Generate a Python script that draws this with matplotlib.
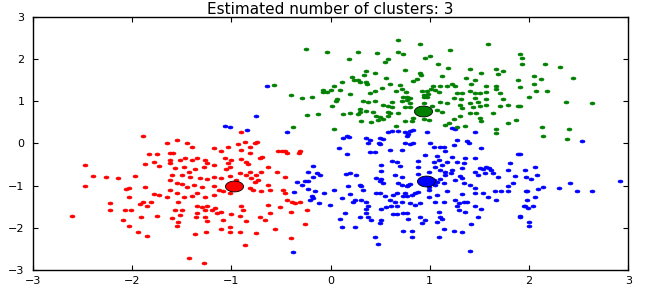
import numpy as np
import matplotlib
matplotlib.use("Agg")
import matplotlib.pyplot as plt
from matplotlib.path import Path

# points, one list per cluster (x, y)
blue_pts = [
    (-0.64, 1.36), (-0.44, 0.27), (0.17, 0.18), (0.12, 0.14), (0.19, 0.16), (0.36, 0.14),
    (0.40, 0.08), (0.38, 0.00), (0.50, 0.12), (0.53, 0.10), (0.58, 0.26), (0.49, 0.02),
    (0.50, -0.02), (0.08, -0.12), (0.17, -0.26), (0.40, -0.21), (0.45, -0.21),
    (-0.75, 0.65), (-1.06, 0.42), (-1.01, 0.38), (-0.84, 0.32), (-0.34, -0.92), (-0.37, -1.16),
    (0.62, 0.30), (0.68, 0.30), (0.75, 0.28), (0.80, 0.30), (0.83, 0.32), (0.97, 0.28),
    (0.77, 0.18), (0.78, 0.22), (0.75, 0.02), (0.80, -0.01), (0.83, 0.00), (0.72, -0.16),
    (1.00, 0.00), (1.04, -0.08), (1.10, -0.09), (1.14, -0.08), (1.15, -0.17), (1.24, -0.04),
    (1.27, 0.07), (1.22, 0.36), (1.25, 0.34), (1.37, 0.05), (1.39, 0.00), (1.46, 0.28),
    (1.52, -0.12), (0.95, -0.28), (1.07, -0.31), (1.22, -0.33), (1.35, -0.35), (1.46, -0.35),
    (0.60, -0.16), (1.89, -0.24), (-0.38, -2.57),
    (-0.18, -0.54), (-0.23, -0.67), (-0.14, -0.71), (-0.11, -0.76), (-0.18, -0.79),
    (-0.26, -0.90), (-0.23, -0.90), (-0.29, -0.99), (-0.23, -1.08), (-0.16, -1.14),
    (-0.07, -1.17), (-0.19, -1.25), (-0.21, -1.33), (-0.18, -1.30), (-0.12, -1.42),
    (-0.01, -1.46), (0.03, -1.10), (0.11, -1.30), (0.16, -0.72), (0.20, -0.71), (0.26, -0.76),
    (0.18, -1.02), (0.30, -0.99), (0.31, -1.02), (0.33, -1.10), (0.20, -1.20), (0.23, -1.38),
    (0.25, -1.34), (0.31, -1.34), (0.36, -1.38), (0.38, -1.48), (0.36, -1.56), (0.14, -1.65),
    (0.30, -1.75), (0.36, -1.65), (0.41, -1.82), (0.38, -1.74), (0.09, -1.80), (0.11, -1.97),
    (0.25, -1.99), (0.50, -1.89), (0.51, -1.82), (0.45, -2.21), (0.48, -2.38), (0.46, -1.17),
    (0.50, -1.17), (0.51, -0.50), (0.51, -0.65), (0.46, -0.83), (0.51, -0.85), (0.53, -0.93),
    (0.50, -0.90), (0.62, -0.42), (0.67, -0.43), (0.70, -0.54), (0.65, -0.75), (0.72, -0.79),
    (0.68, -0.94), (0.72, -0.99), (0.77, -1.02), (0.78, -0.99), (0.80, -0.96), (0.55, -1.25),
    (0.63, -1.22), (0.67, -1.18), (0.73, -1.25), (0.75, -1.18), (0.77, -1.25), (0.82, -1.22),
    (0.85, -1.18), (0.88, -1.16), (0.60, -1.33), (0.65, -1.38), (0.72, -1.40), (0.80, -1.42),
    (0.85, -1.46), (0.90, -1.42), (0.51, -1.56), (0.56, -1.51), (0.61, -1.49), (0.67, -1.48),
    (0.63, -1.67), (0.67, -1.67), (0.73, -1.66), (0.77, -1.65), (0.78, -1.80), (0.90, -1.75),
    (0.95, -1.82), (0.92, -1.89), (0.73, -2.07), (0.82, -2.07), (0.82, -2.22), (0.88, -0.42),
    (0.88, -0.55), (0.99, -0.67), (0.88, -0.72), (0.99, -1.04), (0.99, -1.10), (0.99, -1.26),
    (1.04, -0.43), (1.09, -0.39), (1.17, -0.43), (1.12, -0.51), (1.05, -0.55), (1.10, -0.63),
    (1.15, -0.67), (1.22, -0.63), (1.21, -0.71), (1.27, -0.45), (1.32, -0.59), (1.34, -0.47),
    (1.00, -0.83), (1.04, -0.87), (1.02, -0.95), (1.07, -0.91), (1.05, -0.99), (1.10, -0.85),
    (1.15, -0.75), (1.14, -0.95), (1.25, -0.87), (1.30, -0.77), (1.32, -0.83), (1.34, -0.93),
    (1.46, -0.67), (1.51, -0.59), (1.54, -0.61), (1.57, -0.56), (1.60, -0.59), (1.62, -0.63),
    (1.64, -0.71), (1.56, -0.71), (1.49, -0.75), (1.69, -0.80), (1.79, -0.63), (1.81, -0.47),
    (1.86, -0.77), (1.96, -0.63), (1.97, -0.79), (1.41, -0.99), (1.46, -1.06), (1.46, -1.18),
    (1.54, -1.18), (1.59, -1.26), (1.66, -1.12), (1.72, -1.14), (1.79, -1.02), (1.79, -1.12),
    (1.84, -0.95), (1.97, -1.14), (1.07, -1.22), (1.17, -1.14), (1.05, -1.40), (1.14, -1.38),
    (1.25, -1.33), (1.29, -1.42), (1.32, -1.20), (1.34, -1.40), (1.37, -1.40), (1.27, -1.49),
    (1.29, -1.58), (1.35, -1.62), (1.46, -1.48), (1.52, -1.55), (1.67, -1.34), (1.96, -1.48),
    (1.09, -1.62), (1.10, -1.74), (1.12, -1.80), (1.07, -1.86), (1.49, -1.75), (1.42, -1.91),
    (1.91, -1.72), (2.00, -1.86), (1.14, -2.03), (1.24, -2.07), (1.32, -2.10), (1.09, -2.21),
    (1.41, -2.55), (2.53, 0.05), (1.91, -0.25), (2.06, -0.57), (2.08, -0.75), (2.02, -0.85),
    (2.41, -0.95), (2.14, -1.04), (2.09, -1.08), (2.30, -1.06), (1.98, -1.13), (2.06, -1.26),
    (2.48, -1.14), (2.63, -1.14), (2.92, -0.90), (1.98, -1.35), (1.95, -1.49), (1.99, -1.52),
    (2.04, -1.49), (1.91, -1.74), (2.00, -1.95),
]

green_pts = [
    (-0.57, 1.38), (-0.25, 2.23), (-0.04, 2.17), (0.28, 2.16), (0.47, 2.14), (0.19, 1.99),
    (0.58, 1.99), (0.55, 1.92), (0.36, 1.72), (0.45, 1.67), (0.34, 1.63), (0.22, 1.57),
    (0.28, 1.50), (0.24, 1.50), (0.30, 1.46), (0.36, 1.46), (0.37, 1.41), (0.56, 1.56),
    (0.11, 1.46), (0.03, 1.35), (-0.08, 1.26), (-0.04, 1.23), (0.00, 1.27), (-0.08, 1.21),
    (0.09, 1.26), (0.45, 1.24), (0.52, 1.31), (-0.40, 1.14), (-0.29, 1.07), (-0.19, 1.11),
    (0.20, 1.16), (0.40, 1.19), (0.06, 1.05),
    (0.68, 2.44), (0.90, 2.35), (1.59, 2.35), (1.20, 2.21), (0.68, 2.16), (0.73, 2.11),
    (1.00, 2.07), (0.95, 2.02), (1.08, 1.88), (1.18, 1.79), (0.75, 1.73), (0.90, 1.68),
    (0.91, 1.62), (1.41, 1.76), (1.52, 1.68), (1.67, 1.76), (1.74, 1.72), (1.69, 1.64),
    (1.12, 1.59), (1.36, 1.55), (1.46, 1.50), (0.83, 1.47), (0.87, 1.52), (1.42, 1.40),
    (1.89, 1.51), (0.60, 1.40), (0.70, 1.38), (0.66, 1.25), (1.03, 1.37), (1.10, 1.37),
    (1.17, 1.37), (1.22, 1.42), (1.25, 1.36), (1.57, 1.35), (1.67, 1.37), (1.67, 1.28),
    (0.72, 1.28), (0.76, 1.21), (0.92, 1.25), (0.97, 1.25), (1.01, 1.29), (1.05, 1.26),
    (1.09, 1.21), (0.98, 1.17), (0.94, 1.15), (1.27, 1.19), (1.32, 1.20), (1.40, 1.25),
    (1.46, 1.19), (1.51, 1.19), (1.57, 1.21), (1.71, 1.19), (0.77, 1.09), (0.80, 1.07),
    (0.73, 1.10), (0.94, 1.10), (0.97, 1.11), (1.24, 1.07), (1.31, 1.05), (1.46, 1.07),
    (1.57, 1.06), (1.74, 1.06),
    (1.91, 2.13), (1.93, 2.03), (1.93, 1.88), (2.16, 1.88), (2.31, 1.80), (2.05, 1.59),
    (2.12, 1.53), (2.44, 1.55), (2.05, 1.40), (1.91, 1.33), (2.07, 1.24), (2.18, 1.24),
    (2.00, 1.10), (1.91, 0.88), (2.37, 0.97), (2.63, 0.95), (2.13, 0.40), (2.40, 0.35),
    (0.01, 0.88), (0.05, 1.01), (0.30, 0.81), (0.33, 1.01), (0.38, 0.99), (0.45, 1.00),
    (0.53, 0.91), (0.58, 0.89), (-0.24, 0.67), (-0.13, 0.70), (0.12, 0.69), (0.20, 0.71),
    (0.28, 0.70), (0.30, 0.74), (0.36, 0.77), (0.43, 0.75), (0.46, 0.66), (0.50, 0.63),
    (0.31, 0.54), (0.41, 0.51), (0.48, 0.55), (0.53, 0.59), (0.58, 0.75), (0.58, 0.65),
    (-0.38, 0.38), (0.03, 0.34),
    (0.62, 0.99), (0.72, 1.00), (0.77, 1.03), (0.80, 0.95), (0.75, 0.87), (0.62, 0.87),
    (0.60, 0.73), (0.68, 0.73), (0.80, 0.87), (0.94, 0.95), (1.02, 0.89), (1.10, 0.99),
    (1.17, 0.95), (1.07, 0.79), (1.12, 0.75), (1.30, 0.91), (1.32, 0.84), (1.41, 0.95),
    (1.44, 0.87), (1.49, 0.99), (1.51, 0.89), (1.57, 0.91), (1.71, 0.89), (1.79, 0.91),
    (1.89, 0.89), (1.41, 0.72), (1.47, 0.72), (1.30, 0.64), (1.24, 0.57), (1.19, 0.48),
    (1.15, 0.44), (1.27, 0.40), (1.35, 0.42), (1.51, 0.60), (1.52, 0.52), (1.64, 0.72),
    (1.67, 0.34), (1.67, 0.24), (1.79, 0.48), (1.87, 0.55), (0.66, 0.41), (0.75, 0.54),
    (0.82, 0.52), (0.94, 0.57), (0.99, 0.55), (0.83, 0.60),
    (2.14, 0.18), (2.38, 0.10),
]

red_pts = [
    (-0.53, -0.19), (-0.49, -0.17), (-0.46, -0.19), (-0.44, -0.23), (-0.31, -0.18),
    (-0.32, -0.23), (-0.69, -0.33),
    (-1.89, 0.18), (-1.65, 0.00), (-1.83, -0.25), (-1.75, -0.24), (-1.87, -0.49),
    (-1.78, -0.45), (-1.73, -0.54), (-2.48, -0.50), (-2.40, -0.78), (-2.26, -0.79),
    (-2.14, -0.83), (-1.97, -0.77), (-2.48, -1.00), (-2.06, -1.08), (-2.03, -1.05),
    (-1.87, -1.04), (-2.03, -1.26), (-1.78, -1.20), (-1.73, -1.23), (-1.65, -1.28),
    (-1.62, -0.39), (-1.62, -0.87),
    (-0.90, 0.27), (-1.55, 0.08), (-1.45, 0.00), (-1.40, -0.08), (-1.18, -0.10),
    (-1.03, -0.08), (-0.93, -0.02), (-0.86, 0.04), (-0.76, 0.02), (-0.74, 0.04),
    (-0.81, -0.08), (-0.90, -0.16), (-1.10, -0.19), (-0.81, -0.23), (-1.62, -0.23),
    (-1.59, -0.23), (-1.52, -0.39), (-1.47, -0.35), (-1.40, -0.39), (-1.35, -0.35),
    (-1.27, -0.39), (-1.25, -0.47), (-1.06, -0.35), (-1.00, -0.39), (-0.90, -0.37),
    (-0.85, -0.43), (-0.83, -0.49), (-0.71, -0.35), (-1.62, -0.47), (-1.57, -0.59),
    (-1.48, -0.57), (-1.43, -0.67), (-1.37, -0.61), (-1.28, -0.55), (-1.18, -0.51),
    (-1.03, -0.47), (-1.01, -0.55), (-1.05, -0.61), (-0.91, -0.69), (-0.81, -0.67),
    (-0.85, -0.75), (-0.75, -0.75), (-0.70, -0.67), (-0.63, -0.55), (-0.54, -0.67),
    (-0.46, -0.79), (-1.60, -0.75), (-1.50, -0.75), (-1.42, -0.79), (-1.32, -0.81),
    (-1.25, -0.85), (-1.18, -0.79), (-1.10, -0.83), (-1.01, -0.77), (-0.95, -0.87),
    (-0.80, -0.83), (-0.76, -0.91), (-0.73, -0.87), (-0.63, -0.99), (-1.55, -0.94),
    (-1.50, -0.96), (-1.45, -1.04), (-1.38, -0.99), (-1.30, -1.03), (-1.18, -1.01),
    (-1.13, -1.10), (-1.08, -1.14), (-1.01, -1.17), (-0.81, -1.06), (-0.78, -1.10),
    (-0.70, -1.14), (-0.61, -1.10), (-0.48, -1.10), (-0.46, -1.18), (-1.62, -1.10),
    (-1.55, -1.18), (-1.48, -1.28), (-1.40, -1.25), (-1.35, -1.18), (-1.27, -1.28),
    (-1.18, -1.22),
    (-2.22, -1.42), (-2.22, -1.58), (-2.61, -1.71), (-2.07, -1.57), (-2.01, -1.57),
    (-2.09, -1.82), (-2.03, -1.96), (-1.94, -2.09), (-1.85, -2.19), (-1.91, -1.75),
    (-1.75, -1.71), (-1.92, -1.44), (-1.89, -1.38), (-1.85, -1.48), (-1.81, -1.38),
    (-1.54, -1.38), (-1.57, -1.57), (-1.50, -1.57), (-1.52, -1.70), (-1.54, -1.86),
    (-1.55, -1.95), (-1.60, -1.77), (-1.35, -1.49), (-1.30, -1.51), (-1.25, -1.49),
    (-1.27, -1.58), (-1.20, -1.57), (-1.17, -1.54), (-1.15, -1.66), (-1.35, -1.64),
    (-1.36, -1.74), (-1.27, -1.75), (-1.25, -1.83), (-1.10, -1.62), (-1.08, -1.82),
    (-1.00, -1.67), (-1.01, -1.97), (-1.10, -2.03), (-0.90, -1.49), (-0.88, -1.58),
    (-0.91, -1.72), (-0.85, -1.83), (-1.37, -2.14), (-1.26, -2.10), (-1.01, -2.10),
    (-0.91, -2.10), (-0.86, -2.40), (-0.75, -2.12), (-1.43, -2.72), (-1.28, -2.84),
    (-0.63, -1.46), (-0.51, -1.51), (-0.61, -1.66), (-0.71, -1.74), (-0.66, -1.82),
    (-0.56, -2.03), (-0.40, -2.25), (-0.44, -1.34), (-0.39, -1.38), (-0.36, -1.42),
    (-0.40, -1.62), (-0.31, -1.40), (-0.24, -1.59), (-0.26, -1.91),
]

# cluster centres (blue, green, red)
centers = [(0.96, -0.88), (0.93, 0.76), (-0.97, -1.00)]
colors = ["b", "g", "r"]
n_clusters = 3

# the reference looks squashed vertically, so use flat ellipse markers
t = np.linspace(0, 2 * np.pi, 41)
blob = Path(np.column_stack([np.cos(t), 0.6 * np.sin(t)]), closed=True)

fig = plt.figure(figsize=(6.47, 2.96), dpi=100)
ax = fig.add_axes([0.051, 0.088, 0.920, 0.855])

for pts, center, col in zip([blue_pts, green_pts, red_pts], centers, colors):
    pts = np.array(pts)
    ax.plot(pts[:, 0], pts[:, 1], linestyle="none", marker=blob, color=col,
            markersize=3.6, markeredgewidth=0.4)
    ax.plot(center[0], center[1], linestyle="none", marker=blob, markerfacecolor=col,
            markeredgecolor="k", markersize=13, markeredgewidth=0.6)

ax.set_xlim(-3, 3)
ax.set_ylim(-3, 3)
ax.set_xticks(range(-3, 4))
ax.set_yticks(range(-3, 4))
ax.tick_params(direction="in", top=True, right=True, length=3.5, width=0.8, labelsize=8)
ax.tick_params(axis="x", pad=4)
ax.tick_params(axis="y", pad=6)
for s in ax.spines.values():
    s.set_linewidth(1.0)

ax.set_title("Estimated number of clusters: %d" % n_clusters, fontsize=11, pad=2)

fig.savefig("out.png", dpi=100)
